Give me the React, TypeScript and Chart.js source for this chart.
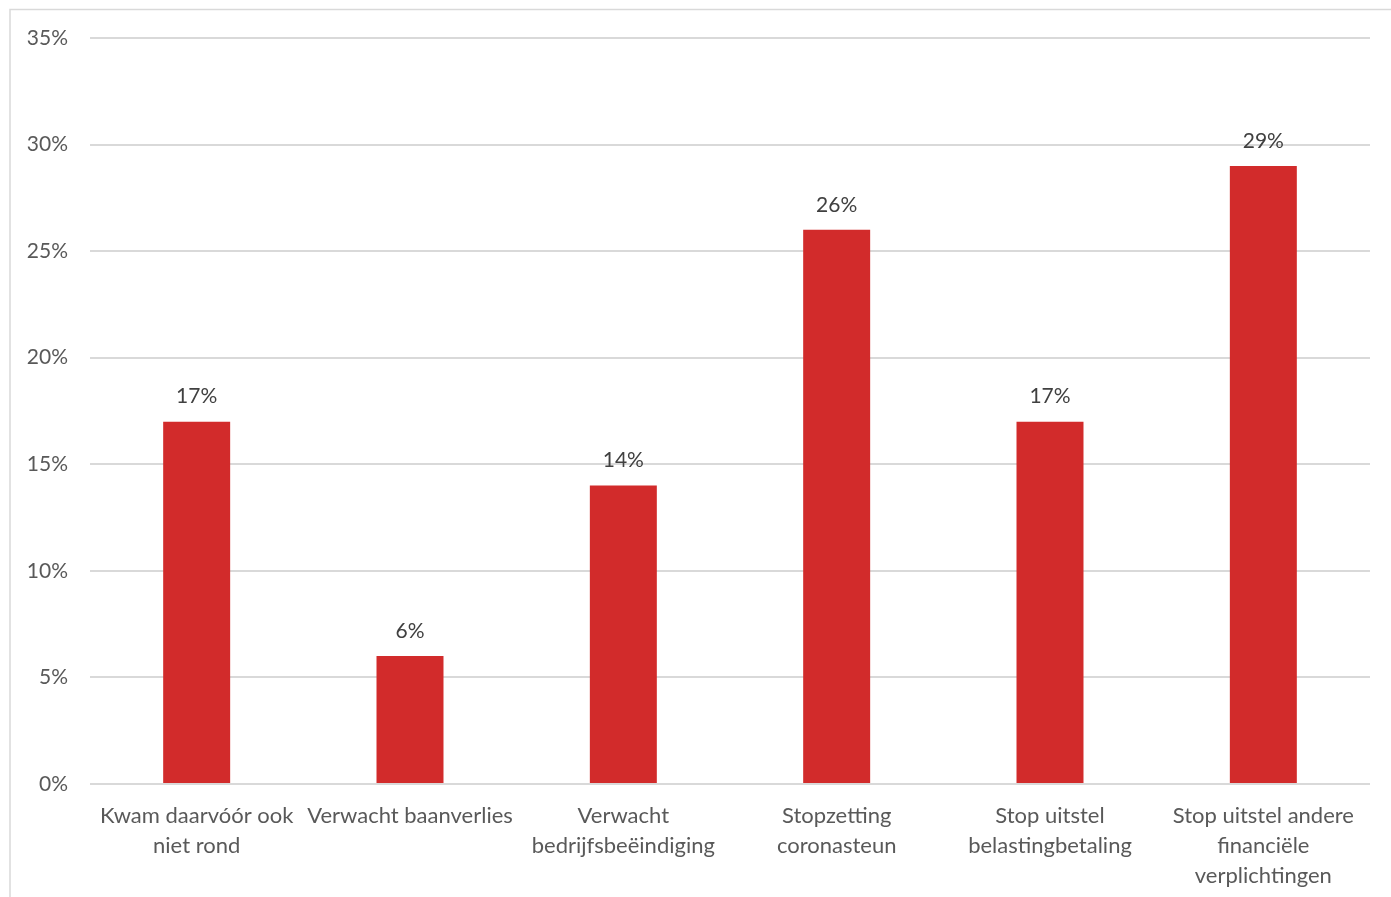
import React, { useEffect, useRef } from "react";
import { Chart, registerables } from "chart.js";
Chart.register(...registerables);

const categories: string[][] = [
  ["Kwam daarvóór ook", "niet rond"],
  ["Verwacht baanverlies"],
  ["Verwacht", "bedrijfsbeëindiging"],
  ["Stopzetting", "coronasteun"],
  ["Stop uitstel", "belastingbetaling"],
  ["Stop uitstel andere", "financiële", "verplichtingen"],
];
const values: number[] = [17, 6, 14, 26, 17, 29];
const yMax = 35;
const yStep = 5;

const FONT = "Lato, 'Open Sans', sans-serif";

const frame = {
  id: "frame",
  beforeDraw(chart: any) {
    const ctx = chart.ctx;
    ctx.save();
    ctx.fillStyle = "#ffffff";
    ctx.fillRect(0, 0, chart.width, chart.height);
    ctx.strokeStyle = "#d9d9d9";
    ctx.lineWidth = 1.5;
    ctx.strokeRect(10, 9.5, chart.width + 20, chart.height + 20);
    ctx.restore();
  },
};

const labels = {
  id: "valueLabels",
  afterDatasetsDraw(chart: any) {
    const ctx = chart.ctx;
    const meta = chart.getDatasetMeta(0);
    ctx.save();
    ctx.font = `21px ${FONT}`;
    ctx.fillStyle = "#404040";
    ctx.textAlign = "center";
    ctx.textBaseline = "middle";
    meta.data.forEach((bar: any, i: number) => {
      ctx.fillText(`${values[i]}%`, bar.x, bar.y - 25);
    });
    ctx.restore();
  },
};

export default function App() {
  const ref = useRef<HTMLCanvasElement>(null);
  useEffect(() => {
    if (!ref.current) return;
    const chart = new Chart(ref.current, {
      type: "bar",
      data: {
        labels: categories,
        datasets: [
          {
            data: values,
            backgroundColor: "#d22b2b",
            barPercentage: 1,
            categoryPercentage: 0.314,
          },
        ],
      },
      options: {
        animation: false,
        responsive: false,
        maintainAspectRatio: false,
        layout: { padding: { left: 0, right: 21, top: 38, bottom: 0 } },
        plugins: { legend: { display: false }, tooltip: { enabled: false } },
        scales: {
          x: {
            grid: { display: false, drawTicks: false },
            border: { display: false },
            ticks: {
              color: "#595959",
              font: { family: FONT, size: 22, lineHeight: "30px" },
              padding: 17,
              maxRotation: 0,
              autoSkip: false,
            },
            afterFit(scale: any) {
              scale.height = 113;
            },
          },
          y: {
            min: 0,
            max: yMax,
            grid: { color: "#d9d9d9", lineWidth: 2, drawTicks: false },
            border: { display: false },
            ticks: {
              stepSize: yStep,
              color: "#595959",
              font: { family: FONT, size: 21 },
              padding: 22,
              callback: (v: any) => `${v}%`,
            },
            afterFit(scale: any) {
              scale.width = 90;
            },
          },
        },
      },
      plugins: [frame, labels],
    });
    return () => chart.destroy();
  }, []);
  return (
    <div style={{ position: "fixed", left: 0, top: 0, width: 1391, height: 897 }}>
      <canvas ref={ref} width={1391} height={897} style={{ display: "block" }} />
    </div>
  );
}
